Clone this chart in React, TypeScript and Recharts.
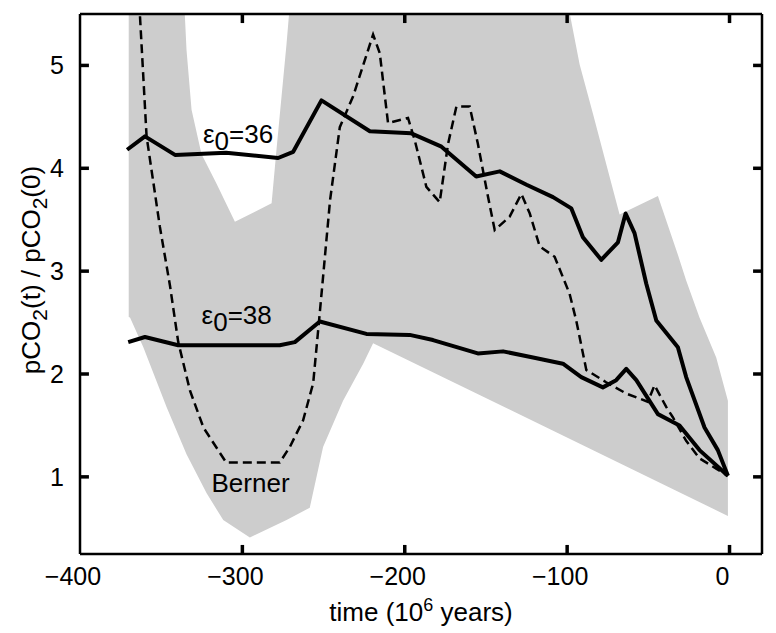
import React from 'react';
import { ComposedChart, Area, Line, XAxis, YAxis, ReferenceDot } from 'recharts';

const FONT = '"Liberation Sans", Arial, Helvetica, sans-serif';

// axis ticks
const xTicks = [-400, -300, -200, -100, 0];
const yTicks = [1, 2, 3, 4, 5];
const X_MIN = -400;
const X_MAX = 20;
const Y_MIN = 0.25;
const Y_MAX = 5.5;

// epsilon0 = 36 model run (thick solid, upper)
const eps36Time = [-371, -360, -341.5, -310, -278, -268.7, -251.3, -221.5, -196, -177.4, -156, -141.5, -125, -108.7, -97.4, -90.3, -79, -68.7, -64, -58.5, -51.3, -45.1, -31.8, -26.7, -15.4, -7.2, -1];
const eps36Ratio = [4.18, 4.31, 4.13, 4.15, 4.1, 4.16, 4.66, 4.36, 4.34, 4.21, 3.92, 3.97, 3.84, 3.72, 3.61, 3.33, 3.11, 3.28, 3.56, 3.37, 2.88, 2.52, 2.26, 1.97, 1.48, 1.26, 1.01];

// epsilon0 = 38 model run (thick solid, lower)
const eps38Time = [-370.3, -360, -339.5, -277, -267.7, -252.3, -223.6, -197, -182.6, -155, -139.5, -121, -102.6, -91.3, -78, -69.8, -63.6, -57.4, -44.1, -30.8, -18.5, -1];
const eps38Ratio = [2.31, 2.36, 2.28, 2.28, 2.31, 2.51, 2.39, 2.38, 2.33, 2.2, 2.22, 2.16, 2.1, 1.97, 1.87, 1.94, 2.05, 1.94, 1.61, 1.5, 1.26, 1.01];

// Berner estimate (dashed)
const bernerTime = [-364, -359, -350.8, -344.6, -339.5, -332.3, -324, -310, -277, -270.8, -262.6, -256.4, -252.3, -246, -240, -231.8, -219.5, -215.4, -210.3, -198, -193.8, -186.7, -178.5, -173.3, -168.2, -160, -155, -148.7, -144.6, -135.4, -128.2, -123, -116.9, -107.7, -98.5, -94.4, -88.2, -76, -63.6, -50.3, -46.2, -39, -34.9, -26.7, -18.5, -8.2, -1];
const bernerRatio = [5.75, 4.31, 3.43, 2.86, 2.31, 1.84, 1.48, 1.14, 1.14, 1.29, 1.55, 1.91, 2.6, 3.69, 4.4, 4.7, 5.3, 5.12, 4.44, 4.49, 4.27, 3.82, 3.67, 4.24, 4.6, 4.6, 4.24, 3.72, 3.4, 3.53, 3.75, 3.56, 3.24, 3.14, 2.78, 2.52, 2.04, 1.92, 1.81, 1.73, 1.89, 1.68, 1.58, 1.35, 1.18, 1.08, 1.01];

// Berner uncertainty envelope: upper and lower edges
const envTopTime = [-370, -337, -334.4, -331.3, -325.2, -315.9, -304.6, -282, -279, -272.8, -268.6, -104.5, -92.3, -84.1, -75.9, -67.7, -44.1, -31.8, -26.7, -18.5, -8.2, -1];
const envTopRatio = [6, 6, 5.15, 4.57, 4.14, 3.85, 3.48, 3.66, 4.18, 5.21, 6, 6, 5.01, 4.53, 4.04, 3.55, 3.73, 3.16, 2.91, 2.55, 2.16, 1.74];
const envLowTime = [-371, -369.2, -361, -346.7, -334.4, -322, -311.8, -295.4, -272.8, -258.5, -250.3, -238, -225.6, -219.5, -1, -0.3];
const envLowRatio = [2.56, 2.55, 2.26, 1.68, 1.22, 0.84, 0.58, 0.41, 0.58, 0.7, 1.29, 1.74, 2.1, 2.3, 0.62, 0.62];

const toPoints = (ts: number[], vs: number[]) => ts.map((t, i) => ({ t, v: vs[i] }));

const eps36 = toPoints(eps36Time, eps36Ratio);
const eps38 = toPoints(eps38Time, eps38Ratio);
const berner = toPoints(bernerTime, bernerRatio);
const envTop = toPoints(envTopTime, envTopRatio);
const envLow = toPoints(envLowTime, envLowRatio);

const fmtTick = (v: number) => String(v).replace('-', '\u2212');

// inward tick length, in axis units (about 9px each way)
const TICK_DX = 5.5;
const TICK_DY = 0.088;

// matlab-style inward tick marks on all four sides
const tickSegments = [
  ...xTicks.slice(1).map((t) => [{ t, v: Y_MIN }, { t, v: Y_MIN + TICK_DY }]),
  ...xTicks.slice(1).map((t) => [{ t, v: Y_MAX }, { t, v: Y_MAX - TICK_DY }]),
  ...yTicks.map((v) => [{ t: X_MIN, v }, { t: X_MIN + TICK_DX, v }]),
  ...yTicks.map((v) => [{ t: X_MAX, v }, { t: X_MAX - TICK_DX, v }]),
];

const BottomTick = (props: any) => {
  const { x, y, payload } = props;
  return (
    <text x={x - 7} y={y} dy="0.71em" textAnchor="middle" fontFamily={FONT} fontSize={25} fill="#000">
      {fmtTick(payload.value)}
    </text>
  );
};

const LeftTick = (props: any) => {
  const { x, y, payload } = props;
  return (
    <text x={x} y={y} dy="0.355em" textAnchor="end" fontFamily={FONT} fontSize={25} fill="#000">
      {payload.value}
    </text>
  );
};

const epsLabel = (tail: string) => (props: any) => {
  const { x, y } = props.viewBox;
  return (
    <text x={x + 1} y={y + 1} fontFamily={FONT} fontSize={26} fill="#000">
      ε<tspan dy={7}>0</tspan>
      <tspan dy={-7}>{tail}</tspan>
    </text>
  );
};

const bernerLabel = (props: any) => {
  const { x, y } = props.viewBox;
  return (
    <text x={x + 1} y={y + 1} fontFamily={FONT} fontSize={26} fill="#000">
      Berner
    </text>
  );
};

const timeLabel = (props: any) => {
  const { x, y, width } = props.viewBox;
  return (
    <text x={x + width / 2} y={y + 67} textAnchor="middle" fontFamily={FONT} fontSize={26} fill="#000">
      time (10<tspan dy={-10} fontSize={18}>6</tspan>
      <tspan dy={10}> years)</tspan>
    </text>
  );
};

const ratioLabel = () => {
  const cx = 32;
  const cy = 262;
  return (
    <text
      x={cx}
      y={cy}
      transform={`rotate(-90 ${cx} ${cy})`}
      textAnchor="middle"
      fontFamily={FONT}
      fontSize={26}
      fill="#000"
    >
      pCO<tspan dy={7} fontSize={21}>2</tspan>
      <tspan dy={-7}>(t) / pCO</tspan>
      <tspan dy={7} fontSize={21}>2</tspan>
      <tspan dy={-7}>(0)</tspan>
    </text>
  );
};

const axisLine = { stroke: '#000', strokeWidth: 2.5 };

export default function App() {
  return (
    <ComposedChart width={760} height={625} margin={{ top: 4, right: 4, bottom: 29, left: 0 }}>
      <Area
        data={envTop}
        xAxisId="b"
        yAxisId="l"
        dataKey="v"
        type="linear"
        fill="#cdcdcd"
        fillOpacity={1}
        stroke="none"
        isAnimationActive={false}
      />
      <Area
        data={envLow}
        xAxisId="b"
        yAxisId="l"
        dataKey="v"
        type="linear"
        fill="#ffffff"
        fillOpacity={1}
        stroke="none"
        isAnimationActive={false}
      />
      <Line
        data={berner}
        xAxisId="b"
        yAxisId="l"
        dataKey="v"
        type="linear"
        stroke="#000"
        strokeWidth={2.5}
        strokeDasharray="9 5"
        dot={false}
        activeDot={false}
        isAnimationActive={false}
      />
      <Line
        data={eps36}
        xAxisId="b"
        yAxisId="l"
        dataKey="v"
        type="linear"
        stroke="#000"
        strokeWidth={4}
        strokeLinejoin="round"
        dot={false}
        activeDot={false}
        isAnimationActive={false}
      />
      <Line
        data={eps38}
        xAxisId="b"
        yAxisId="l"
        dataKey="v"
        type="linear"
        stroke="#000"
        strokeWidth={4}
        strokeLinejoin="round"
        dot={false}
        activeDot={false}
        isAnimationActive={false}
      />
      {tickSegments.map((seg, i) => (
        <Line
          key={`tick-${i}`}
          data={seg}
          xAxisId="b"
          yAxisId="l"
          dataKey="v"
          type="linear"
          stroke="#000"
          strokeWidth={3.5}
          dot={false}
          activeDot={false}
          legendType="none"
          isAnimationActive={false}
        />
      ))}
      <ReferenceDot xAxisId="b" yAxisId="l" x={-324.3} y={4.25} r={1} fill="none" stroke="none" label={epsLabel('=36')} />
      <ReferenceDot xAxisId="b" yAxisId="l" x={-325.1} y={2.49} r={1} fill="none" stroke="none" label={epsLabel('=38')} />
      <ReferenceDot xAxisId="b" yAxisId="l" x={-319} y={0.85} r={1} fill="none" stroke="none" label={bernerLabel} />

      <XAxis
        xAxisId="b"
        type="number"
        dataKey="t"
        domain={[X_MIN, X_MAX]}
        ticks={xTicks}
        interval={0}
        allowDataOverflow
        height={50}
        tickSize={0}
        tickMargin={13}
        tick={BottomTick}
        tickLine={false}
        axisLine={axisLine}
        label={timeLabel}
      />
      <XAxis
        xAxisId="t"
        orientation="top"
        type="number"
        dataKey="t"
        domain={[X_MIN, X_MAX]}
        allowDataOverflow
        height={2}
        tick={false}
        tickLine={false}
        axisLine={axisLine}
      />
      <YAxis
        yAxisId="l"
        type="number"
        domain={[Y_MIN, Y_MAX]}
        ticks={yTicks}
        interval={0}
        allowDataOverflow
        width={72}
        tickSize={0}
        tickMargin={16}
        tick={LeftTick}
        tickLine={false}
        axisLine={axisLine}
        label={ratioLabel}
      />
      <YAxis
        yAxisId="r"
        orientation="right"
        type="number"
        domain={[Y_MIN, Y_MAX]}
        allowDataOverflow
        width={2}
        tick={false}
        tickLine={false}
        axisLine={axisLine}
      />
    </ComposedChart>
  );
}
